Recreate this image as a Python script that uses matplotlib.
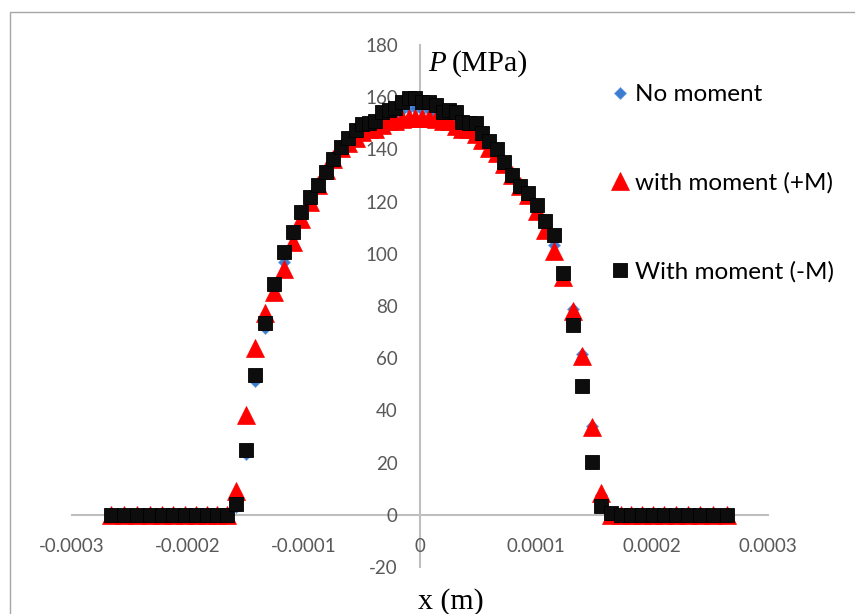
import matplotlib
matplotlib.use("Agg")
import matplotlib.pyplot as plt
from matplotlib.patches import Rectangle
import numpy as np

# x positions in micrometres (converted to metres when plotting)
x_um = [-266.5, -254.9, -243.7, -232.9, -222.6, -212.6, -202.7, -193.2, -183.8, -175.1,
        -166.5, -158.3, -150.1, -141.9, -133.8, -125.6, -117.4, -109.6, -102.5, -95.2,
        -88.1, -81.4, -74.7, -68.2, -61.8, -55.6, -49.9, -44.1, -38.5, -32.9,
        -27.1, -21.4, -15.7, -9.9, -4.0,
        2.0, 7.9, 13.7, 19.4, 25.1, 30.9, 36.5, 42.1, 47.9, 53.6,
        59.8, 66.2, 72.7, 79.4, 86.1, 93.2, 100.5, 107.6, 115.4, 123.6,
        131.8, 139.9, 148.1, 156.3, 164.5, 173.1, 181.8, 191.2, 200.7, 210.6,
        220.6, 230.9, 241.7, 252.9, 264.5]

p_no_moment = [0, 0, 0, 0, 0, 0, 0, 0, 0, 0,
               0, 3.0, 23.3, 51.3, 71.7, 87.0, 97.0, 106.5, 114.5, 120.5,
               126.0, 131.5, 136.0, 140.5, 143.5, 146.0, 148.0, 149.0, 149.5, 152.0,
               153.0, 153.5, 155.0, 156.0, 156.0,
               155.0, 155.0, 154.0, 153.0, 153.0, 151.5, 149.0, 148.8, 148.0, 145.0,
               142.0, 139.2, 135.0, 130.2, 126.0, 122.8, 117.5, 111.0, 103.5, 92.5,
               79.0, 61.7, 34.2, 7.4, 0, 0, 0, 0, 0, 0,
               0, 0, 0, 0, 0]

p_plus_m = [0, 0, 0, 0, 0, 0, 0, 0, 0, 0,
            0, 9.3, 38.3, 63.8, 77.2, 85.5, 94.2, 104.5, 113.4, 119.8,
            126.2, 132.0, 136.5, 140.5, 142.5, 144.5, 146.5, 147.7, 147.7, 149.5,
            150.9, 150.9, 151.5, 152.2, 152.2,
            152.2, 152.2, 151.5, 151.0, 150.9, 149.0, 147.7, 147.7, 146.0, 143.5,
            140.5, 138.5, 134.5, 130.0, 126.0, 122.5, 116.4, 109.0, 101.0, 91.0,
            78.0, 60.8, 33.8, 8.3, 0, 0, 0, 0, 0, 0,
            0, 0, 0, 0, 0]

p_minus_m = [0, 0, 0, 0, 0, 0, 0, 0, 0, 0,
             0, 4.0, 25.0, 53.5, 73.5, 88.5, 100.5, 108.5, 116.0, 121.6,
             126.5, 131.5, 136.3, 141.0, 144.5, 147.5, 149.8, 150.3, 151.0, 154.5,
             155.0, 156.0, 158.3, 159.6, 159.6,
             158.0, 158.3, 157.0, 154.5, 155.0, 154.5, 150.6, 150.0, 150.0, 146.2,
             143.2, 140.0, 135.3, 130.2, 126.0, 123.2, 118.7, 112.7, 107.2, 92.6,
             72.8, 49.4, 20.4, 3.2, 0.6, 0, 0, 0, 0, 0,
             0, 0, 0, 0, 0]

labels = ["No moment", "with moment (+M)", "With moment (-M)"]
x_ticks = [-0.0003, -0.0002, -0.0001, 0, 0.0001, 0.0002, 0.0003]
x_tick_labels = ["-0.0003", "-0.0002", "-0.0001", "0", "0.0001", "0.0002", "0.0003"]
y_ticks = [-20, 0, 20, 40, 60, 80, 100, 120, 140, 160, 180]

W, H = 855, 614
fig = plt.figure(figsize=(W / 100, H / 100), dpi=100)

# outer chart border
fig.patches.append(Rectangle((10 / W, -0.1), 1.2, 1 - 12 / H + 0.1, transform=fig.transFigure,
                             fill=False, edgecolor="#a6a6a6", linewidth=1.0))

ax = fig.add_axes([72 / W, 1 - 567 / H, 696 / W, 522 / H])
ax.set_xlim(-0.0003, 0.0003)
ax.set_ylim(-20, 180)

x = np.array(x_um) * 1e-6
h1, = ax.plot(x, p_no_moment, linestyle="none", marker="D", ms=6.5,
              color="#3b7dd0", mec="#6a9fe0", mew=0.5, zorder=3)
h2, = ax.plot(x, p_plus_m, linestyle="none", marker="^", ms=13,
              color="#ff0000", mec="#ff0000", mew=0.5, zorder=4)
h3, = ax.plot(x, p_minus_m, linestyle="none", marker="s", ms=9.5,
              color="#0d0d0d", mec="#000000", mew=0.6, zorder=5)

for s in ["top", "right"]:
    ax.spines[s].set_visible(False)
ax.spines["left"].set_position(("data", 0))
ax.spines["bottom"].set_position(("data", 0))
for s in ["left", "bottom"]:
    ax.spines[s].set_color("#bfbfbf")
    ax.spines[s].set_linewidth(1.5)
    ax.spines[s].set_zorder(1)

tick_font = dict(family="Lato", size=13.5)
ax.set_xticks(x_ticks)
ax.set_xticklabels(x_tick_labels, fontdict=tick_font, color="#595959")
ax.set_yticks(y_ticks)
ax.set_yticklabels([str(v) for v in y_ticks], fontdict=tick_font, color="#595959")
ax.tick_params(axis="x", length=0, pad=17)
ax.tick_params(axis="y", length=0, pad=16)
ax.patch.set_alpha(0)

# axis titles
fig.text(428 / W, 1 - 71 / H, "P", family="Liberation Serif", style="italic",
         size=21, va="baseline", ha="left")
fig.text(452 / W, 1 - 71 / H, "(MPa)", family="Liberation Serif",
         size=21.5, va="baseline", ha="left")
fig.text(451 / W, 1 - 609 / H, "x (m)", family="Liberation Serif",
         size=21.5, va="baseline", ha="center")

fig.legend([h1, h2, h3], labels, loc="upper left",
           bbox_to_anchor=(612 / W, 1 - 84 / H), frameon=False,
           prop=dict(family="Lato", size=17.5), handlelength=0.65,
           handletextpad=0.3, labelspacing=2.76, borderpad=0, borderaxespad=0)

fig.savefig("out.png", dpi=100)
